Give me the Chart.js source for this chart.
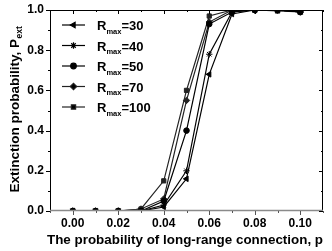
<!DOCTYPE html>
<html>
<head>
<meta charset="utf-8">
<script src="https://cdn.jsdelivr.net/npm/chart.js@4/dist/chart.umd.min.js"></script>
<style>
  html, body { margin: 0; padding: 0; background: #fff; }
  #wrap { width: 332px; height: 251px; }
</style>
</head>
<body>
<div id="wrap"><canvas id="c" width="332" height="251"></canvas></div>
<script>
// datos
const pValues = [0, 0.01, 0.02, 0.03, 0.04, 0.05, 0.06, 0.07, 0.08, 0.09, 0.10];
const rMaxLabels = ["30", "40", "50", "70", "100"];
const r30 = [0, 0, 0, 0, 0.02, 0.16, 0.68, 0.98, 1, 1, 0.99];
const r40 = [0, 0, 0, 0, 0.03, 0.20, 0.78, 0.99, 1, 1, 0.99];
const r50 = [0, 0, 0, 0, 0.05, 0.40, 0.93, 0.99, 1, 1, 0.99];
const r70 = [0, 0, 0, 0.01, 0.06, 0.55, 0.94, 1, 1, 1, 0.99];
const r100 = [0, 0, 0, 0.01, 0.15, 0.60, 0.97, 1, 1, 0.995, 0.99];
const xTicks = [0, 0.02, 0.04, 0.06, 0.08, 0.10];
const yTicks = [0, 0.2, 0.4, 0.6, 0.8, 1.0];

const FONT = "'Liberation Sans', Arial, sans-serif";
const series = [r30, r40, r50, r70, r100];
const styles = [
  { pointStyle: "triangle", rotation: -90, radius: 3.2, color: "#000" },
  { pointStyle: "star", rotation: 0, radius: 3.2, color: "#000" },
  { pointStyle: "circle", rotation: 0, radius: 2.8, color: "#000" },
  { pointStyle: "rectRot", rotation: 0, radius: 3.2, color: "#222" },
  { pointStyle: "rect", rotation: 0, radius: 3, color: "#222" },
];

const datasets = series.map((vals, i) => ({
  label: rMaxLabels[i],
  data: vals.map((v, j) => ({ x: pValues[j], y: v })),
  borderColor: styles[i].color,
  backgroundColor: styles[i].color,
  borderWidth: 1.2,
  pointStyle: styles[i].pointStyle,
  rotation: styles[i].rotation,
  pointRadius: styles[i].radius,
  pointBorderWidth: 1,
  tension: 0,
}));

// dibuja marco, marcas, títulos y leyenda
const decor = {
  id: "decor",
  afterDraw(chart) {
    const ctx = chart.ctx;
    const a = chart.chartArea;
    const xs = chart.scales.x;
    const ys = chart.scales.y;
    ctx.save();
    ctx.lineWidth = 1;

    // marco
    ctx.strokeStyle = "#000";
    ctx.beginPath();
    ctx.moveTo(a.left + 0.5, a.bottom);
    ctx.lineTo(a.left + 0.5, a.top + 0.5);
    ctx.lineTo(a.right - 0.5, a.top + 0.5);
    ctx.lineTo(a.right - 0.5, a.bottom);
    ctx.stroke();
    ctx.strokeStyle = "#8a8a8a";
    ctx.lineWidth = 1.5;
    ctx.beginPath();
    ctx.moveTo(a.left, a.bottom - 0.5);
    ctx.lineTo(a.right, a.bottom - 0.5);
    ctx.stroke();

    // marcas eje x
    ctx.lineWidth = 1;
    for (let k = -1; k <= 11; k++) {
      const px = Math.round(xs.getPixelForValue(k / 100)) + 0.5;
      const major = k % 2 === 0;
      const len = major ? 4 : 2;
      ctx.strokeStyle = "#555";
      ctx.beginPath();
      ctx.moveTo(px, a.bottom);
      ctx.lineTo(px, a.bottom + len);
      ctx.stroke();
      ctx.strokeStyle = "#000";
      ctx.beginPath();
      ctx.moveTo(px, a.top);
      ctx.lineTo(px, a.top + len);
      ctx.stroke();
    }
    // marcas eje y
    for (let k = 0; k <= 10; k++) {
      const py = Math.round(ys.getPixelForValue(k / 10)) + 0.5;
      const len = k % 2 === 0 ? 4 : 2;
      ctx.beginPath();
      ctx.moveTo(a.left, py);
      ctx.lineTo(a.left - len, py);
      ctx.moveTo(a.right, py);
      ctx.lineTo(a.right - len, py);
      ctx.stroke();
    }

    // etiquetas
    ctx.fillStyle = "#000";
    ctx.font = "bold 12px " + FONT;
    ctx.textAlign = "center";
    ctx.textBaseline = "top";
    xTicks.forEach((v) => {
      ctx.fillText(v.toFixed(2), xs.getPixelForValue(v), a.bottom + 7);
    });
    ctx.textAlign = "right";
    ctx.textBaseline = "middle";
    yTicks.forEach((v) => {
      ctx.fillText(v.toFixed(1), a.left - 6, ys.getPixelForValue(v));
    });

    // título eje x
    ctx.font = "bold 13.4px " + FONT;
    ctx.textAlign = "center";
    ctx.textBaseline = "alphabetic";
    ctx.fillText("The probability of long-range connection, p", 185, 244);

    // título eje y con subíndice
    ctx.save();
    ctx.translate(15, (a.top + a.bottom) / 2 - 1);
    ctx.rotate(-Math.PI / 2);
    const main = "Extinction probability, P";
    ctx.font = "bold 13.5px " + FONT;
    const wMain = ctx.measureText(main).width;
    ctx.font = "bold 8.5px " + FONT;
    const wSub = ctx.measureText("ext").width;
    const start = -(wMain + wSub) / 2;
    ctx.textAlign = "left";
    ctx.font = "bold 13.5px " + FONT;
    ctx.fillText(main, start, 4);
    ctx.font = "bold 8.5px " + FONT;
    ctx.fillText("ext", start + wMain + 0.5, 7);
    ctx.restore();

    // leyenda
    chart.data.datasets.forEach((ds, i) => {
      const y = 25 + i * 20.5;
      const x0 = 62, x1 = 85;
      ctx.strokeStyle = ds.borderColor;
      ctx.lineWidth = 1.2;
      ctx.beginPath();
      ctx.moveTo(x0, y);
      ctx.lineTo(x1, y);
      ctx.stroke();
      Chart.helpers.drawPoint(ctx, {
        pointStyle: ds.pointStyle,
        rotation: ds.rotation,
        radius: ds.pointRadius,
        borderWidth: 1,
      }, (x0 + x1) / 2, y);
      ctx.fillStyle = "#000";
      ctx.strokeStyle = "#000";
      ctx.textAlign = "left";
      ctx.textBaseline = "alphabetic";
      ctx.font = "bold 13px " + FONT;
      ctx.fillText("R", 97, y + 5);
      const wR = ctx.measureText("R").width;
      ctx.font = "bold 7.5px " + FONT;
      ctx.fillText("max", 97 + wR, y + 8.5);
      const wM = ctx.measureText("max").width;
      ctx.font = "bold 13px " + FONT;
      ctx.fillText("=" + ds.label, 97 + wR + wM, y + 5);
    });
    ctx.restore();
  },
};

new Chart(document.getElementById("c"), {
  type: "line",
  data: { datasets },
  options: {
    responsive: false,
    animation: false,
    events: [],
    layout: { padding: { left: 50, right: 9, top: 10, bottom: 40 } },
    plugins: { legend: { display: false }, tooltip: { enabled: false } },
    scales: {
      x: {
        type: "linear",
        min: -0.01,
        max: 0.11,
        display: false,
      },
      y: {
        type: "linear",
        min: 0,
        max: 1,
        display: false,
      },
    },
  },
  plugins: [decor],
});
</script>
</body>
</html>
